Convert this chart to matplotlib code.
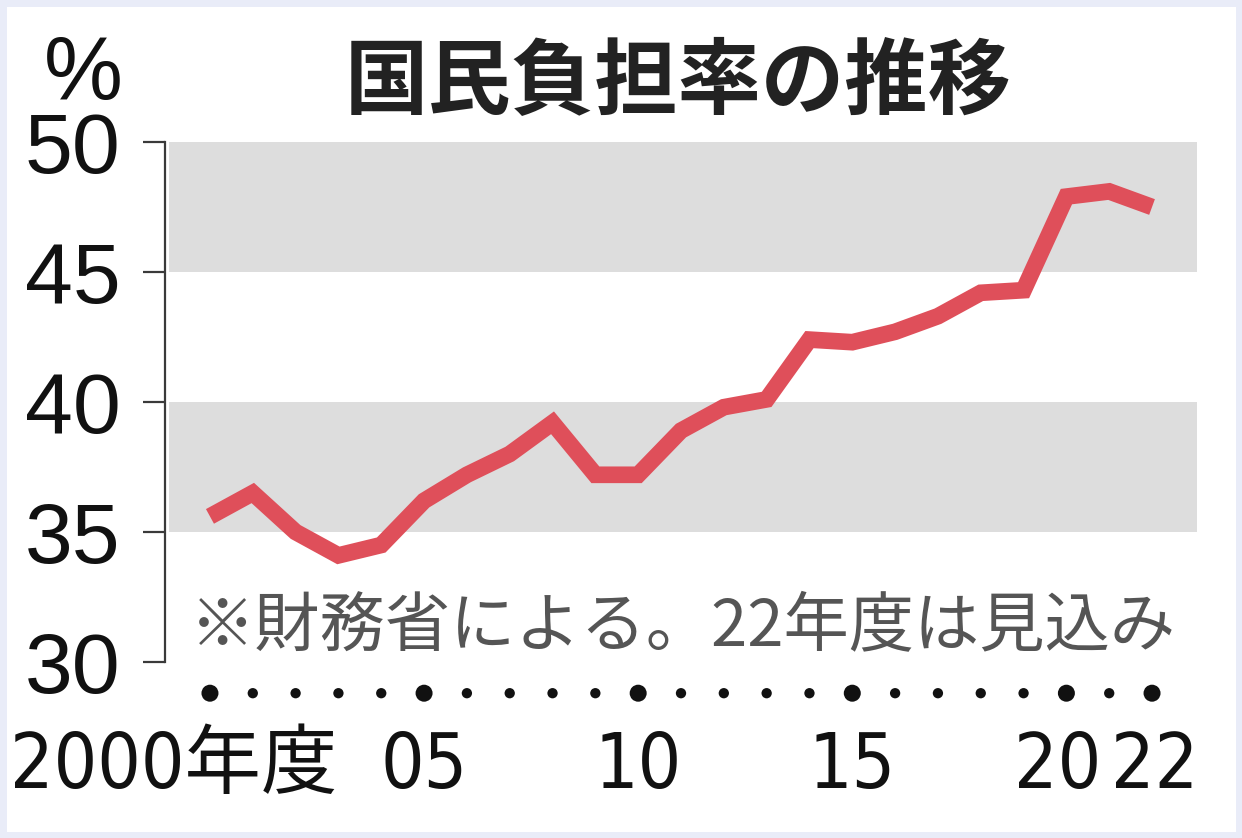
import matplotlib
matplotlib.use("Agg")
import matplotlib.pyplot as plt
from matplotlib.transforms import ScaledTranslation

years = list(range(2000, 2023))
burden = [35.6, 36.5, 35.0, 34.1, 34.5, 36.2, 37.2, 38.0, 39.2, 37.2, 37.2,
          38.9, 39.8, 40.1, 42.4, 42.3, 42.7, 43.3, 44.2, 44.3, 47.9, 48.1, 47.5]
tick_years = [2000, 2005, 2010, 2015, 2020, 2022]
tick_labels = ["2000年度", "05", "10", "15", "20", "22"]
y_ticks = [30, 35, 40, 45, 50]
bands = [(35, 40), (45, 50)]

title = "国民負担率の推移"
note = "※財務省による。22年度は見込み"

jp = "Noto Sans CJK JP"

W, H = 1242, 838
fig = plt.figure(figsize=(W / 100, H / 100), dpi=100)
fig.patch.set_facecolor("white")
fig.patch.set_edgecolor("#e9ecf8")
fig.patch.set_linewidth(8)

ax = fig.add_axes([165 / W, 1 - 662 / H, (1197 - 165) / W, 520 / H])
ax.set_xlim(1998.95, 2023.05)
ax.set_ylim(30, 50)

for lo, hi in bands:
    ax.axhspan(lo, hi, xmin=0.004, color="#dddddd", lw=0, zorder=0)

ax.plot(years, burden, color="#df4f5a", lw=12, solid_joinstyle="miter",
        solid_capstyle="butt", zorder=3)

# dots under the axis, big ones on labelled years
sizes = [150 if y in tick_years else 55 for y in years]
ax.scatter(years, [-0.06] * len(years), s=sizes, color="#111111",
           transform=ax.get_xaxis_transform(), clip_on=False, lw=0)

for s in ["top", "right", "bottom"]:
    ax.spines[s].set_visible(False)
ax.spines["left"].set_color("#3a3a3a")
ax.spines["left"].set_linewidth(1.6)

ax.set_yticks(y_ticks)
ax.set_yticklabels([str(v) for v in y_ticks], fontsize=62,
                   family="Liberation Sans", color="#111111")
ax.tick_params(axis="y", length=16, width=1.6, color="#3a3a3a", pad=16)

ax.set_xticks(tick_years)
ax.set_xticklabels(tick_labels, fontsize=55, family=["DejaVu Sans", jp],
                   stretch="condensed", color="#111111")
ax.tick_params(axis="x", length=0, pad=49)
# nudge a few labels sideways like the original layout
shifts = {0: -0.36, 4: -0.09, 5: 0.03}
labels = ax.get_xticklabels()
for i, dx in shifts.items():
    lab = labels[i]
    lab.set_transform(lab.get_transform() + ScaledTranslation(dx, 0, fig.dpi_scale_trans))

ax.text(0.024, 0.067, note, transform=ax.transAxes, ha="left", va="center",
        fontsize=47, family=[jp, "DejaVu Sans"], color="#555555")

fig.text(678 / W, 1 - 84 / H, title, ha="center", va="center", fontsize=60,
         weight="bold", family=jp, color="#222222")
fig.text(83 / W, 1 - 76 / H, "%", ha="center", va="center", fontsize=64,
         family="Liberation Sans", color="#111111")

fig.savefig("out.png", dpi=100)
